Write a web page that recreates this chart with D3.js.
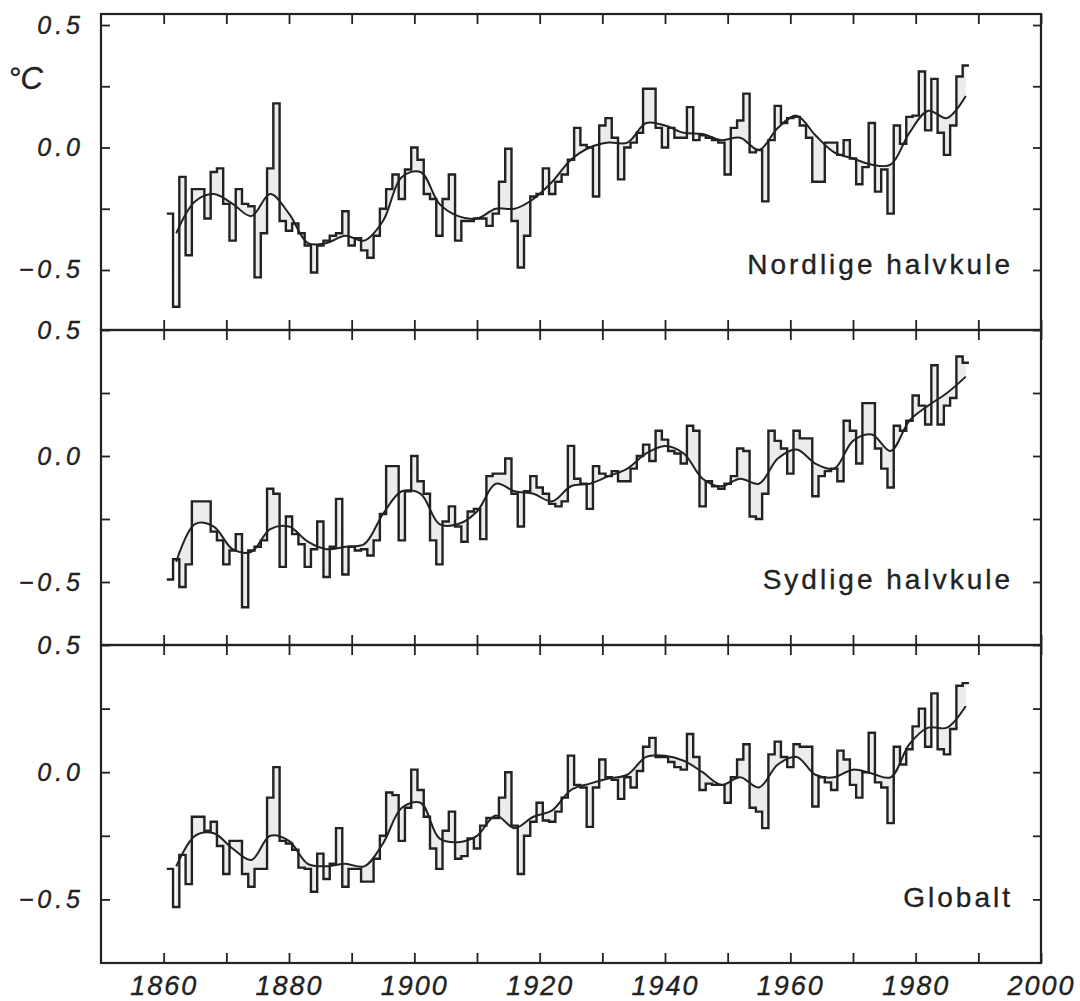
<!DOCTYPE html>
<html>
<head>
<meta charset="utf-8">
<script src="https://cdn.jsdelivr.net/npm/d3@7"></script>
<style>
  body { margin: 0; background: #fff; }
  text { font-family: 'Liberation Sans', Arial, sans-serif; fill: #222; stroke: #222; stroke-width: 0.35px; }
</style>
</head>
<body>
<div id="chart"></div>
<script>
// annual anomalies, degC, one value per year starting 1861
const firstYear = 1861
const nordlige = [
  -0.27, -0.65, -0.12, -0.44, -0.17, -0.17, -0.29, -0.10, -0.085, -0.23,
  -0.38, -0.17, -0.23, -0.24, -0.53, -0.35, -0.085, 0.18, -0.30, -0.34,
  -0.31, -0.35, -0.40, -0.51, -0.40, -0.38, -0.36, -0.35, -0.26, -0.40,
  -0.37, -0.42, -0.45, -0.36, -0.25, -0.17, -0.11, -0.21, -0.09, 0.0,
  -0.05, -0.19, -0.21, -0.36, -0.21, -0.11, -0.38, -0.30, -0.30, -0.29,
  -0.29, -0.32, -0.27, -0.14, -0.005, -0.30, -0.49, -0.36, -0.20, -0.19,
  -0.085, -0.19, -0.14, -0.11, -0.05, 0.08, 0.01, 0.0, -0.20, 0.09,
  0.12, 0.04, -0.13, 0.0, 0.02, 0.06, 0.24, 0.24, 0.08, 0.0,
  0.08, 0.04, 0.04, 0.165, 0.03, 0.05, 0.04, 0.03, 0.02, -0.11,
  0.08, 0.11, 0.22, -0.02, -0.01, -0.22, 0.03, 0.17, 0.10, 0.12,
  0.125, 0.09, 0.04, -0.14, -0.14, 0.02, 0.02, -0.03, 0.03, -0.045,
  -0.15, -0.08, 0.10, -0.18, -0.09, -0.27, 0.09, 0.015, 0.125, 0.13,
  0.31, 0.07, 0.28, 0.06, -0.03, 0.09, 0.29, 0.335
]
const sydlige = [
  -0.49, -0.41, -0.52, -0.43, -0.18, -0.18, -0.18, -0.30, -0.335, -0.43,
  -0.375, -0.31, -0.60, -0.375, -0.36, -0.335, -0.13, -0.15, -0.44, -0.24,
  -0.31, -0.35, -0.44, -0.37, -0.26, -0.48, -0.36, -0.17, -0.47, -0.36,
  -0.375, -0.37, -0.395, -0.335, -0.23, -0.04, -0.04, -0.335, -0.14, 0.0,
  -0.10, -0.15, -0.335, -0.43, -0.26, -0.20, -0.28, -0.34, -0.22, -0.21,
  -0.33, -0.08, -0.07, -0.07, -0.01, -0.15, -0.28, -0.14, -0.08, -0.125,
  -0.15, -0.19, -0.20, -0.18, 0.04, -0.09, -0.11, -0.21, -0.04, -0.07,
  -0.08, -0.06, -0.10, -0.10, -0.05, 0.0, 0.045, -0.02, 0.10, 0.065,
  0.02, 0.01, -0.03, 0.12, 0.10, -0.20, -0.10, -0.12, -0.13, -0.11,
  -0.08, 0.03, 0.02, -0.24, -0.25, -0.15, 0.10, 0.06, 0.03, -0.07,
  0.10, 0.07, 0.07, -0.16, -0.08, -0.06, -0.05, -0.10, 0.14, 0.10,
  -0.03, 0.21, 0.21, 0.03, -0.05, -0.125, 0.12, 0.10, 0.14, 0.24,
  0.20, 0.125, 0.36, 0.125, 0.20, 0.23, 0.395, 0.37
]
const globalt = [
  -0.38, -0.53, -0.325, -0.44, -0.175, -0.175, -0.23, -0.195, -0.29, -0.40,
  -0.27, -0.27, -0.40, -0.45, -0.38, -0.38, -0.10, 0.02, -0.27, -0.28,
  -0.305, -0.375, -0.38, -0.47, -0.32, -0.42, -0.36, -0.22, -0.45, -0.38,
  -0.38, -0.43, -0.43, -0.34, -0.25, -0.08, -0.09, -0.27, -0.14, 0.01,
  -0.07, -0.175, -0.30, -0.38, -0.23, -0.155, -0.34, -0.33, -0.26, -0.30,
  -0.21, -0.18, -0.18, -0.10, 0.0, -0.21, -0.40, -0.25, -0.195, -0.12,
  -0.19, -0.195, -0.155, -0.10, 0.065, -0.05, -0.06, -0.215, -0.06, 0.05,
  -0.02, -0.03, -0.105, -0.02, -0.06, 0.005, 0.10, 0.135, 0.06, 0.06,
  0.04, 0.02, 0.01, 0.15, 0.06, -0.07, -0.045, -0.05, -0.05, -0.12,
  -0.02, 0.05, 0.11, -0.14, -0.155, -0.22, 0.07, 0.12, 0.06, 0.02,
  0.11, 0.10, 0.10, -0.135, -0.02, -0.04, -0.07, 0.085, 0.05, -0.05,
  -0.10, 0.0, 0.155, -0.04, -0.06, -0.20, 0.10, 0.03, 0.09, 0.18,
  0.25, 0.10, 0.31, 0.09, 0.07, 0.17, 0.34, 0.35
]

const smoothYears = [
  1862, 1865, 1868, 1871, 1874, 1877, 1880, 1883, 1886, 1889, 1892,
  1895, 1898, 1901, 1904, 1907, 1910, 1913, 1916, 1919, 1922, 1925,
  1928, 1931, 1934, 1937, 1940, 1943, 1946, 1949, 1952, 1955, 1958,
  1961, 1964, 1967, 1970, 1973, 1976, 1979, 1982, 1985, 1988
]
const nordligeSmooth = [
  -0.35, -0.22, -0.19, -0.23, -0.28, -0.19, -0.27, -0.39, -0.39, -0.36, -0.38,
  -0.30, -0.12, -0.10, -0.23, -0.28, -0.29, -0.25, -0.25, -0.21, -0.14, -0.05,
  0.0, 0.02, 0.02, 0.10, 0.09, 0.06, 0.055, 0.03, 0.04, -0.01, 0.08,
  0.13, 0.05, -0.02, -0.045, -0.07, -0.07, 0.06, 0.15, 0.12, 0.21
]
const sydligeSmooth = [
  -0.42, -0.27, -0.28, -0.37, -0.38, -0.29, -0.28, -0.34, -0.37, -0.36, -0.35,
  -0.23, -0.14, -0.15, -0.27, -0.27, -0.22, -0.11, -0.14, -0.15, -0.18, -0.12,
  -0.11, -0.08, -0.05, 0.01, 0.04, 0.01, -0.09, -0.12, -0.09, -0.11, -0.01,
  0.026, -0.03, -0.05, 0.06, 0.085, 0.02, 0.14, 0.20, 0.25, 0.315
]
const globaltSmooth = [
  -0.37, -0.25, -0.24, -0.30, -0.345, -0.25, -0.27, -0.36, -0.37, -0.36, -0.37,
  -0.28, -0.14, -0.12, -0.26, -0.275, -0.25, -0.17, -0.22, -0.175, -0.15, -0.07,
  -0.045, -0.025, -0.01, 0.06, 0.065, 0.045, 0.0, -0.05, -0.02, -0.06, 0.03,
  0.06, -0.01, -0.02, 0.01, -0.005, -0.02, 0.11, 0.175, 0.175, 0.26
]

const panelNames = ['Nordlige halvkule', 'Sydlige halvkule', 'Globalt']
const yTicks = [-0.5, -0.25, 0, 0.25, 0.5]
const yLabels = [-0.5, 0, 0.5]
const xTicks = [1860, 1870, 1880, 1890, 1900, 1910, 1920, 1930, 1940, 1950, 1960, 1970, 1980, 1990, 2000]
const xLabels = [1860, 1880, 1900, 1920, 1940, 1960, 1980, 2000]

const series = [nordlige, sydlige, globalt]
const smooths = [nordligeSmooth, sydligeSmooth, globaltSmooth]

const width = 1080
const height = 1001
const left = 101
const right = 1041
const ink = '#222'
const shade = '#ececec'

const panels = [
  {top: 14, bottom: 330, domain: [-0.745, 0.545]},
  {top: 330, bottom: 645, domain: [-0.75, 0.5]},
  {top: 645, bottom: 963, domain: [-0.75, 0.5]}
]

const x = d3.scaleLinear()
  .domain([1850, 2000])
  .range([left, right])

const fmt = d3.format('.1f')

const svg = d3.select('#chart')
  .append('svg')
    .attr('width', width)
    .attr('height', height)
const defs = svg.append('defs')

function styleAxis(g) {
  g.attr('font-size', null).attr('font-family', null).attr('color', ink)
  g.select('.domain').remove()
  g.selectAll('.tick line').attr('stroke-width', 1.8)
}

panels.forEach((p, i) => {
  const y = d3.scaleLinear()
    .domain(p.domain)
    .range([p.bottom, p.top])

  const values = series[i]
  const steps = values.map((v, k) => [firstYear + k - 0.5, v])
  steps.push([firstYear + values.length - 0.5, values[values.length - 1]])
  const smooth = smoothYears.map((yr, k) => [yr, smooths[i][k]])

  const smoothArea = d3.area().curve(d3.curveCatmullRom).x(d => x(d[0])).y1(d => y(d[1]))
  const stepArea = d3.area().curve(d3.curveStepAfter).x(d => x(d[0])).y1(d => y(d[1]))

  defs.append('clipPath').attr('id', 'above' + i)
    .append('path').attr('d', smoothArea.y0(p.top)(smooth))
  defs.append('clipPath').attr('id', 'below' + i)
    .append('path').attr('d', smoothArea.y0(p.bottom)(smooth))

  const g = svg.append('g').attr('class', 'panel')

  // shading between the yearly steps and the smoothed curve
  g.append('path')
    .attr('d', stepArea.y0(p.bottom)(steps))
    .attr('clip-path', `url(#above${i})`)
    .attr('fill', shade)
  g.append('path')
    .attr('d', stepArea.y0(p.top)(steps))
    .attr('clip-path', `url(#below${i})`)
    .attr('fill', shade)

  g.append('path')
    .attr('d', d3.line().curve(d3.curveStepAfter).x(d => x(d[0])).y(d => y(d[1]))(steps))
    .attr('fill', 'none')
    .attr('stroke', ink)
    .attr('stroke-width', 2.4)
  g.append('path')
    .attr('d', d3.line().curve(d3.curveCatmullRom).x(d => x(d[0])).y(d => y(d[1]))(smooth))
    .attr('fill', 'none')
    .attr('stroke', ink)
    .attr('stroke-width', 2)

  const yl = g.append('g')
    .attr('transform', `translate(${left}, 0)`)
    .call(d3.axisLeft(y).tickValues(yTicks).tickSize(-9).tickPadding(17)
      .tickFormat(d => yLabels.includes(d) ? fmt(d) : ''))
    .call(styleAxis)
  yl.selectAll('text')
    .style('font-size', '25px')
    .style('font-style', 'italic')
    .style('letter-spacing', '4px')

  g.append('g')
    .attr('transform', `translate(${right}, 0)`)
    .call(d3.axisRight(y).tickValues(yTicks).tickSize(-8).tickFormat(''))
    .call(styleAxis)

  g.append('g')
    .attr('transform', `translate(0, ${p.top})`)
    .call(d3.axisTop(x).tickValues(xTicks).tickSize(-10).tickFormat(''))
    .call(styleAxis)

  const last = i === panels.length - 1
  const xb = g.append('g')
    .attr('transform', `translate(0, ${p.bottom})`)
    .call(d3.axisBottom(x).tickValues(xTicks).tickSize(-10).tickPadding(13)
      .tickFormat(d => last && xLabels.includes(d) ? d : ''))
    .call(styleAxis)
  xb.selectAll('text')
    .style('font-size', '27px')
    .style('font-style', 'italic')
    .style('letter-spacing', '2px')

  g.append('rect')
    .attr('x', left)
    .attr('y', p.top)
    .attr('width', right - left)
    .attr('height', p.bottom - p.top)
    .attr('fill', 'none')
    .attr('stroke', ink)
    .attr('stroke-width', 2.2)

  g.append('text')
    .attr('x', 1013)
    .attr('y', p.bottom - 56)
    .attr('text-anchor', 'end')
    .style('font-size', '28px')
    .style('letter-spacing', '3px')
    .text(panelNames[i])
})

svg.append('text')
  .attr('x', 8)
  .attr('y', 89)
  .style('font-size', '31px')
  .style('font-style', 'italic')
  .text('°C')
</script>
</body>
</html>
